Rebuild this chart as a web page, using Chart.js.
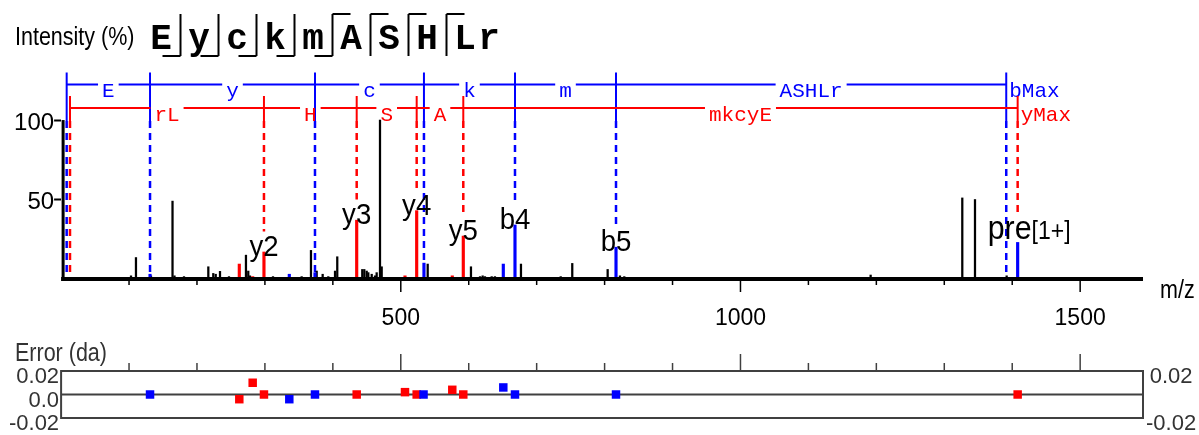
<!DOCTYPE html>
<html><head><meta charset="utf-8">
<script src="https://cdn.jsdelivr.net/npm/chart.js@4.4.1/dist/chart.umd.min.js"></script>
<style>
html,body{margin:0;padding:0;background:#fff;}
#wrap{position:relative;width:1199px;height:435px;overflow:hidden;background:#fff;}
#c1{position:absolute;left:0;top:0;}
#c2{position:absolute;left:0;top:335px;}
</style></head><body>
<div id="wrap"><canvas id="c1" width="1199" height="335"></canvas><canvas id="c2" width="1199" height="100"></canvas></div>
<script>
// ---------- data ----------
const residues = ['E','y','c','k','m','A','S','H','L','r'];
const bCuts = [1,2,3,4,5];          // b ions observed (cut after n residues)
const yCuts = [2,3,4,5];            // y ions observed (cut before last n residues)

const peakMz  = [102.9,110.2,132.3,164.0,166.9,180.9,216.7,224.0,227.6,233.9,247.1,272.1,275.5,278.0,311.9,354.1,367.8,376.2,385.0,393.3,403.2,406.5,443.3,446.3,449.8,452.2,457.2,462.0,464.5,469.4,471.9,539.6,603.3,616.6,620.5,623.9,633.8,638.6,676.9,735.4,752.4,804.5,822.6,829.0,1191.6,1326.5,1345.2,1391.8,1445.7];
const peakInt = [2,13.5,2,49,2,1.5,7.7,3.5,3,4.8,1.5,15,5,2,1.5,1.5,18,5,3,1.5,5,14,6,6,5,4,3,2,4,100,7.7,9.4,7.7,1.5,2,1.5,1.5,1.5,9.4,1.5,9.8,6,2,1.5,2.5,51,50,2,1];

const bPeakMz  = [130.9,335.9,373.7,534.1,650.9,668.1,816.8,1408.0];
const bPeakInt = [3,3,4,10,9.4,34,20,23];
const yPeakMz  = [262.3,282.0,298.6,435.1,506.2,523.4,575.8,592.0];
const yPeakInt = [9.4,1.5,17,37,2,43,2,27];

const bLadderMz   = [8.2,130.9,373.7,534.1,668.1,816.8,1391.2];
const bLadderText = ['E','y','c','k','m','ASHLr'];
const yLadderMz   = [13.1,298.6,435.1,523.4,592.0,1408.0];
const yLadderText = ['rL','H','S','A','mkcyE'];

const annText   = ['y2','y3','y4','y5','b4','b5','pre'];
const annCharge = ['','','','','','','[1+]'];
const annMz     = [298.6,435.1,523.4,592.0,668.1,816.8,1408.0];
const annInt    = [17,37,43,27,34,20,23];

const bErrMz = [130.9,335.9,373.7,533.5,650.9,668.1,816.8];
const bErr   = [0,-0.004,0,0,0.006,0,0];
const yErrMz = [262.3,282.0,298.6,435.1,506.2,523.4,575.8,592.0,1408.0];
const yErr   = [-0.004,0.010,0,0,0.002,0,0.004,0,0];

const xTickVals  = [100,200,300,400,500,600,700,800,900,1000,1100,1200,1300,1400,1500];
const xLabelVals = [500,1000,1500];
const yTickVals  = [50,100];
const errTickVals = [-0.02,0,0.02];
const errRightTickVals = [-0.02,0.02];

// ---------- style ----------
const SANS = "'Liberation Sans',Arial,sans-serif";
const MONO = "'Liberation Mono','Courier New',monospace";
const BLUE = '#0000ff', RED = '#ff0000', GREY = '#404040';
const XMAX = 1592.5;
const NARROW = 0.86;   // horizontal squeeze to mimic a narrow sans face

function seg(ctx,x1,y1,x2,y2){ctx.beginPath();ctx.moveTo(x1,y1);ctx.lineTo(x2,y2);ctx.stroke();}
function narrowText(ctx, text, x, y, size, align, sx){
  sx = sx || NARROW;
  ctx.save();
  ctx.translate(x, y); ctx.scale(sx, 1);
  ctx.font = size + 'px ' + SANS; ctx.textAlign = align;
  ctx.fillText(text, 0, 0);
  ctx.restore();
}
function narrowWidth(ctx, text, size, sx){
  sx = sx || NARROW;
  ctx.save(); ctx.font = size + 'px ' + SANS;
  const w = ctx.measureText(text).width * sx; ctx.restore(); return w;
}

function annSize(i){ return annCharge[i] ? 33 : 30; }
function annBaseline(i, ys){
  return ys.getPixelForValue(annInt[i]) + (annCharge[i] ? -3 : 4);
}
function annLabelTop(i, ys){
  return annBaseline(i, ys) - 0.72*annSize(i);
}
function dashStop(mz, pkMz, pkInt, ys){
  for(let i=0;i<annMz.length;i++) if(Math.abs(annMz[i]-mz)<1) return annLabelTop(i, ys) - 3;
  for(let i=0;i<pkMz.length;i++) if(Math.abs(pkMz[i]-mz)<1) return ys.getPixelForValue(pkInt[i]);
  return ys.getPixelForValue(0);
}
function drawLadder(ctx, xs, ys, mzs, texts, endText, color, rowY, tickTop, pkMz, pkInt){
  const top100 = ys.getPixelForValue(100);
  const px = mzs.map(m => xs.getPixelForValue(m));
  ctx.strokeStyle = color; ctx.fillStyle = color;
  ctx.font = '21px ' + MONO; ctx.textBaseline = 'alphabetic';
  ctx.lineWidth = 2; ctx.setLineDash([]);
  for(let i=0;i<px.length-1;i++){
    const mid = (px[i]+px[i+1])/2, w = ctx.measureText(texts[i]).width/2 + 4;
    seg(ctx, px[i], rowY, mid-w, rowY); seg(ctx, mid+w, rowY, px[i+1], rowY);
    ctx.textAlign = 'center'; ctx.fillText(texts[i], mid, rowY + 12.5);
  }
  ctx.textAlign = 'left';
  ctx.fillText(endText, px[px.length-1] + 3, rowY + 12.5);
  px.forEach((p,i) => {
    ctx.setLineDash([]); ctx.lineWidth = 2;
    seg(ctx, p, tickTop, p, top100 + 1);
    const stop = dashStop(mzs[i], pkMz, pkInt, ys);
    ctx.setLineDash([7,5]); ctx.lineWidth = 2.5;
    seg(ctx, p, top100 + 1, p, stop);
  });
  ctx.setLineDash([]);
}

const spectrumPlugin = {
  id: 'spectrum',
  beforeDatasetsDraw(chart){
    const ctx = chart.ctx, xs = chart.scales.x, ys = chart.scales.y;
    ctx.save();
    drawLadder(ctx, xs, ys, bLadderMz, bLadderText, 'bMax', BLUE, 84.5, 72.5, bPeakMz, bPeakInt);
    drawLadder(ctx, xs, ys, yLadderMz, yLadderText, 'yMax', RED, 108, 96, yPeakMz, yPeakInt);
    ctx.restore();
  },
  afterDatasetsDraw(chart){
    const ctx = chart.ctx, xs = chart.scales.x, ys = chart.scales.y;
    ctx.save();
    // peak annotations
    ctx.fillStyle = '#000'; ctx.textBaseline = 'alphabetic';
    annText.forEach((t,i) => {
      const px = xs.getPixelForValue(annMz[i]), bl = annBaseline(i, ys);
      if(annCharge[i]){
        const x0 = px - 30, w1 = narrowWidth(ctx, t, annSize(i), 0.92);
        narrowText(ctx, t, x0, bl, annSize(i), 'left', 0.92);
        narrowText(ctx, annCharge[i], x0 + w1, bl, 25, 'left', 0.92);
      } else {
        narrowText(ctx, t, px, bl, annSize(i), 'center', 0.92);
      }
    });
    // axes
    const base = ys.getPixelForValue(0), x0 = xs.getPixelForValue(0);
    ctx.strokeStyle = '#000';
    ctx.lineWidth = 3; seg(ctx, x0 + 2, ys.getPixelForValue(100), x0 + 2, base + 2);
    ctx.lineWidth = 4; seg(ctx, x0, base, xs.getPixelForValue(XMAX), base);
    ctx.lineWidth = 1.5;
    xTickVals.forEach(v => {
      const p = xs.getPixelForValue(v);
      seg(ctx, p, base + 2, p, base + (v % 500 === 0 ? 13 : 6));
    });
    ctx.fillStyle = '#000'; ctx.textBaseline = 'alphabetic';
    narrowText(ctx, 'm/z', xs.getPixelForValue(XMAX) + 17, base + 19, 25, 'left');
    // header
    narrowText(ctx, 'Intensity (%)', 15, 45, 25, 'left');
    ctx.font = 'bold 36px ' + MONO; ctx.textAlign = 'center'; ctx.lineWidth = 2;
    let x = 161;
    residues.forEach((r,i) => {
      ctx.fillText(r, x, 49);
      const n = i + 1;
      const bc = bCuts.includes(n), yc = yCuts.includes(residues.length - n);
      if(bc || yc){
        const sx = x + 19.5;
        seg(ctx, sx, 14, sx, 56);
        if(bc) seg(ctx, sx - 18, 56, sx, 56);
        if(yc) seg(ctx, sx, 14, sx + 18, 14);
        x = sx + 18.5;
      } else x += 24;
    });
    ctx.restore();
  }
};

new Chart(document.getElementById('c1'), {
  type: 'bar',
  data: { datasets: [
    { label:'b ions', data: bPeakMz.map((m,i)=>({x:m,y:bPeakInt[i]})), backgroundColor: BLUE, barThickness: 2.5 },
    { label:'y ions', data: yPeakMz.map((m,i)=>({x:m,y:yPeakInt[i]})), backgroundColor: RED, barThickness: 2.5 },
    { label:'peaks',  data: peakMz.map((m,i)=>({x:m,y:peakInt[i]})), backgroundColor: '#000', barThickness: 1.6 }
  ]},
  options: {
    responsive: false, animation: false, devicePixelRatio: 1,
    plugins: { legend: { display: false }, tooltip: { enabled: false } },
    layout: { padding: { top: 66, right: 56, left: 0, bottom: 0 } },
    datasets: { bar: { grouped: false } },
    scales: {
      x: { type: 'linear', min: 0, max: XMAX, offset: false,
           grid: { display: false, drawTicks: false }, border: { display: false },
           afterBuildTicks: s => { s.ticks = xTickVals.map(v => ({ value: v })); },
           ticks: { autoSkip: false, maxRotation: 0, padding: 26, color: '#000',
                    font: { family: SANS, size: 23 },
                    callback: v => xLabelVals.includes(v) ? String(v) : '' },
           afterFit: s => { s.height = 56; } },
      y: { min: 0, max: 134,
           grid: { display: true, drawOnChartArea: false, drawTicks: true, tickLength: 7, tickWidth: 2, tickColor: '#000' },
           border: { display: false },
           afterBuildTicks: s => { s.ticks = yTickVals.map(v => ({ value: v })); },
           ticks: { padding: 0, labelOffset: 3, autoSkip: false, color: '#000', font: { family: SANS, size: 24 } },
           afterFit: s => { s.width = 61.1; } }
    }
  },
  plugins: [spectrumPlugin]
});

const errPlugin = {
  id: 'errframe',
  beforeDatasetsDraw(chart){
    const ctx = chart.ctx, a = chart.chartArea, xs = chart.scales.x, ys = chart.scales.y;
    ctx.save();
    ctx.strokeStyle = GREY; ctx.lineWidth = 2;
    ctx.strokeRect(a.left, a.top, a.right - a.left, a.bottom - a.top);
    seg(ctx, a.left, ys.getPixelForValue(0), a.right, ys.getPixelForValue(0));
    ctx.lineWidth = 1.5;
    xTickVals.forEach(v => {
      const p = xs.getPixelForValue(v);
      seg(ctx, p, a.top, p, a.top - (v % 500 === 0 ? 17 : 8));
    });
    ctx.fillStyle = '#333'; ctx.textBaseline = 'alphabetic';
    narrowText(ctx, 'Error (da)', 15, 26, 25, 'left');
    ctx.restore();
  }
};

const errLabel = v => v === 0 ? '0.0' : String(v);
new Chart(document.getElementById('c2'), {
  type: 'scatter',
  data: { datasets: [
    { label:'b error', data: bErrMz.map((m,i)=>({x:m,y:bErr[i]})), pointStyle:'rect', radius: 6, backgroundColor: BLUE, borderWidth: 0 },
    { label:'y error', data: yErrMz.map((m,i)=>({x:m,y:yErr[i]})), pointStyle:'rect', radius: 6, backgroundColor: RED, borderWidth: 0 }
  ]},
  options: {
    responsive: false, animation: false, devicePixelRatio: 1,
    plugins: { legend: { display: false }, tooltip: { enabled: false } },
    layout: { padding: { top: 36, bottom: 17, left: 0, right: 0 } },
    scales: {
      x: { type: 'linear', min: 0, max: XMAX, display: false },
      y: { position: 'left', min: -0.02, max: 0.02,
           grid: { display: false, drawTicks: false }, border: { display: false },
           afterBuildTicks: s => { s.ticks = errTickVals.map(v => ({ value: v })); },
           ticks: { padding: 2, labelOffset: 6, autoSkip: false, color: '#333', font: { family: SANS, size: 22 }, callback: errLabel },
           afterFit: s => { s.width = 61.1; } },
      y2: { position: 'right', min: -0.02, max: 0.02,
           grid: { display: false, drawTicks: false }, border: { display: false },
           afterBuildTicks: s => { s.ticks = errRightTickVals.map(v => ({ value: v })); },
           ticks: { padding: 3, labelOffset: 6, autoSkip: false, crossAlign: 'center', color: '#333', font: { family: SANS, size: 22 }, callback: errLabel },
           afterFit: s => { s.width = 56; } }
    }
  },
  plugins: [errPlugin]
});
</script>
</body></html>
